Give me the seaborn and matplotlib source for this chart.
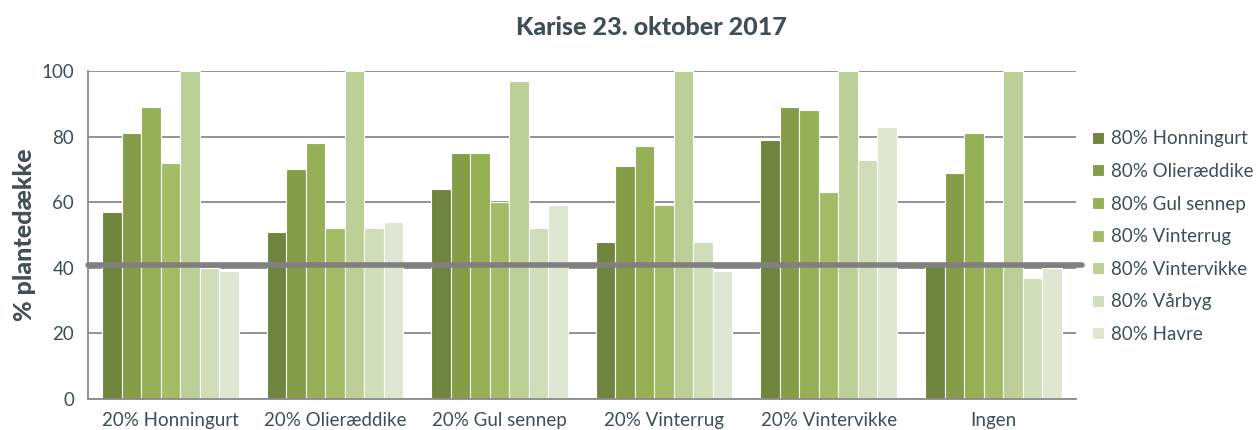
import numpy as np
import pandas as pd
import matplotlib
matplotlib.use("Agg")
import matplotlib.pyplot as plt
import seaborn as sns

# grupper på x-aksen (20% art) og serier (80% art)
groups = ["20% Honningurt", "20% Olieræddike", "20% Gul sennep",
          "20% Vinterrug", "20% Vintervikke", "Ingen"]
series = ["80% Honningurt", "80% Olieræddike", "80% Gul sennep",
          "80% Vinterrug", "80% Vintervikke", "80% Vårbyg", "80% Havre"]

# værdier pr. serie, én pr. gruppe
honningurt = [57, 51, 64, 48, 79, 41]
olieraeddike = [81, 70, 75, 71, 89, 69]
gul_sennep = [89, 78, 75, 77, 88, 81]
vinterrug = [72, 52, 60, 59, 63, 41]
vintervikke = [100, 100, 97, 100, 100, 100]
vaarbyg = [40, 52, 52, 48, 73, 37]
havre = [39, 54, 59, 39, 83, 40]

threshold = 40.8

colors = ["#6f853e", "#839e47", "#95b055", "#a3bd67",
          "#bbcf96", "#d0ddb8", "#dfe7d2"]
text_color = "#3f4f55"
grid_color = "#8a8a8a"

values = [honningurt, olieraeddike, gul_sennep, vinterrug,
          vintervikke, vaarbyg, havre]
rows = []
for s, vals in zip(series, values):
    for g, v in zip(groups, vals):
        rows.append({"gruppe": g, "serie": s, "værdi": v})
df = pd.DataFrame(rows)

sns.set_style("white")
plt.rcParams["font.family"] = ["Lato", "DejaVu Sans"]

fig = plt.figure(figsize=(12.58, 4.30), dpi=100)
ax = fig.add_axes([0.070, 0.072, 0.785, 0.763])

sns.barplot(data=df, x="gruppe", y="værdi", hue="serie", order=groups,
            hue_order=series, palette=colors, width=0.83, edgecolor="white",
            linewidth=0.8, saturation=1, ax=ax, zorder=2)

ax.set_ylim(0, 100)
ax.set_xlim(-0.5, len(groups) - 0.5)
ax.set_yticks([0, 20, 40, 60, 80, 100])
ax.yaxis.grid(True, color=grid_color, linewidth=1.3, zorder=0)
ax.set_axisbelow(True)
ax.axhline(threshold, color="#808080", linewidth=4, zorder=5, clip_on=False,
           xmax=1.006)

for side in ["top", "right"]:
    ax.spines[side].set_visible(False)
for side in ["left", "bottom"]:
    ax.spines[side].set_color(grid_color)
    ax.spines[side].set_linewidth(1.3)

ax.tick_params(axis="y", length=6, width=1.3, color=grid_color,
               labelsize=13.5, labelcolor=text_color, pad=4)
ax.tick_params(axis="x", which="major", length=0, labelsize=13.5,
               labelcolor=text_color, pad=9)
ax.set_xticks(np.arange(-0.5, len(groups)), minor=True)
ax.tick_params(axis="x", which="minor", length=6, width=1.3, color=grid_color)

ax.set_xlabel("")
ax.set_ylabel("% plantedække", fontsize=18, fontweight="black",
              color=text_color, labelpad=4)
fig.text(0.5175, 0.935, "Karise 23. oktober 2017", fontsize=18,
         fontweight="black", color=text_color, ha="center", va="center")

leg = ax.legend(loc="upper left", bbox_to_anchor=(1.0, 0.87), frameon=False,
                fontsize=13.5, labelcolor=text_color, handlelength=0.6,
                handleheight=0.6, handletextpad=0.4, labelspacing=0.83)

fig.savefig("out.png", dpi=100)
